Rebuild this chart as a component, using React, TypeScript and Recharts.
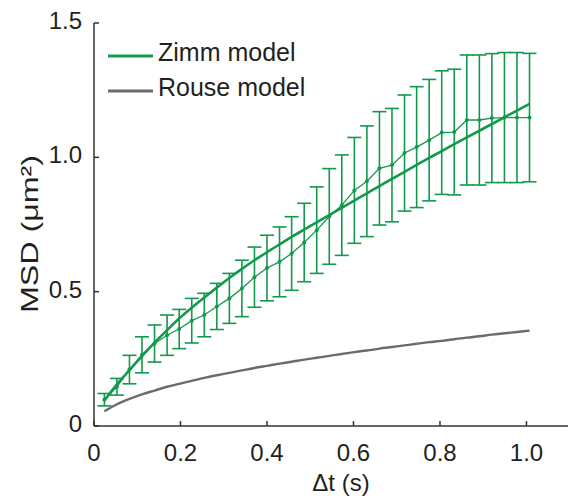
import { ComposedChart, ErrorBar, Legend, Line, XAxis, YAxis } from "recharts";

// lag times (s)
const DT = [
  0.024, 0.053, 0.082, 0.111, 0.14, 0.169, 0.197, 0.226, 0.255, 0.284, 0.313, 0.342,
  0.371, 0.4, 0.429, 0.457, 0.486, 0.515, 0.544, 0.573, 0.602, 0.631, 0.66, 0.689,
  0.718, 0.746, 0.775, 0.804, 0.833, 0.862, 0.891, 0.92, 0.949, 0.978, 1.007,
];

// measured MSD (µm²) and its error
const MSD_MEAN = [
  0.098, 0.146, 0.21, 0.265, 0.307, 0.338, 0.361, 0.392, 0.413, 0.445, 0.475, 0.512,
  0.554, 0.588, 0.611, 0.642, 0.683, 0.729, 0.78, 0.822, 0.877, 0.911, 0.959, 0.971,
  1.016, 1.038, 1.064, 1.092, 1.094, 1.139, 1.139, 1.146, 1.148, 1.148, 1.148,
];
const MSD_ERR = [
  0.023, 0.031, 0.053, 0.067, 0.069, 0.075, 0.073, 0.083, 0.081, 0.086, 0.093, 0.105,
  0.112, 0.122, 0.13, 0.137, 0.146, 0.161, 0.178, 0.187, 0.197, 0.206, 0.211, 0.211,
  0.216, 0.225, 0.226, 0.23, 0.234, 0.242, 0.242, 0.24, 0.242, 0.242, 0.239,
];

// model curves
const ZIMM = [
  0.095, 0.155, 0.208, 0.26, 0.31, 0.357, 0.4, 0.44, 0.478, 0.515, 0.551, 0.585,
  0.617, 0.647, 0.676, 0.704, 0.731, 0.758, 0.785, 0.812, 0.839, 0.866, 0.893, 0.92,
  0.946, 0.972, 0.998, 1.023, 1.049, 1.074, 1.099, 1.124, 1.149, 1.174, 1.199,
];
const ROUSE = [
  0.055, 0.081, 0.101, 0.118, 0.132, 0.146, 0.157, 0.168, 0.179, 0.189, 0.198, 0.207,
  0.216, 0.224, 0.232, 0.239, 0.247, 0.254, 0.261, 0.268, 0.275, 0.281, 0.288, 0.294,
  0.3, 0.306, 0.312, 0.317, 0.323, 0.329, 0.334, 0.34, 0.345, 0.35, 0.355,
];

const X_TICKS = [0, 0.2, 0.4, 0.6, 0.8, 1.0];
const Y_TICKS = [0, 0.5, 1.0, 1.5];
const LEGEND_ORDER = ["zimm", "rouse"];

const GREEN = "#12994c";
const GREY = "#6b6b6b";
const AXIS = "#333";
const TEXT = "#231f20";
const FONT = "'Liberation Sans', Arial, sans-serif";

const fmt = (v: number) => (v === 0 ? "0" : v.toFixed(1));

const data = DT.map((t, i) => ({
  t,
  mean: MSD_MEAN[i],
  err: MSD_ERR[i],
  zimm: ZIMM[i],
  rouse: ROUSE[i],
}));

const BottomTick = ({ x, y, payload }: any) => (
  <g>
    <line x1={x} x2={x} y1={y - 35} y2={y - 40} stroke={AXIS} strokeWidth={1.5} />
    <text x={x} y={y} textAnchor="middle" fontSize={24} fill={TEXT} fontFamily={FONT}>
      {fmt(payload.value)}
    </text>
  </g>
);

const TopTick = ({ x, y }: any) => (
  <line x1={x} x2={x} y1={y} y2={y + 5} stroke={AXIS} strokeWidth={1.5} />
);

const LeftTick = ({ x, y, payload }: any) => (
  <g>
    <line x1={x + 12} x2={x + 17} y1={y} y2={y} stroke={AXIS} strokeWidth={1.5} />
    <text x={x} y={y + 6} textAnchor="end" fontSize={24} fill={TEXT} fontFamily={FONT}>
      {fmt(payload.value)}
    </text>
  </g>
);

const LegendBox = ({ payload }: any) => (
  <div style={{ fontFamily: FONT, fontSize: 25, color: TEXT }}>
    {(payload || [])
      .filter((p: any) => p.type !== "none")
      .map((p: any) => (
        <div key={p.value} style={{ display: "flex", alignItems: "center", height: 35 }}>
          <svg width={45} height={35} style={{ display: "block" }}>
            <line x1={0} x2={45} y1={21} y2={21} stroke={p.color} strokeWidth={3} />
          </svg>
          <span style={{ marginLeft: 5, lineHeight: "35px", whiteSpace: "nowrap" }}>{p.value}</span>
        </div>
      ))}
  </div>
);

export default function App() {
  return (
    <div style={{ position: "absolute", left: 0, top: 0, background: "#fff" }}>
      <ComposedChart width={568} height={498} data={data} margin={{ top: 23, right: 0, bottom: 0, left: 0 }}>
        <XAxis
          type="number"
          dataKey="t"
          domain={[0, 1.096]}
          ticks={X_TICKS}
          allowDataOverflow
          height={72}
          tickSize={0}
          tickMargin={35}
          axisLine={{ stroke: AXIS, strokeWidth: 1.5 }}
          tick={<BottomTick />}
          label={{
            position: "insideBottom",
            content: (p: any) => (
              <text
                x={p.viewBox.x + p.viewBox.width / 2 + 10}
                y={491}
                textAnchor="middle"
                fontSize={24}
                fill={TEXT}
                fontFamily={FONT}
              >
                Δt (s)
              </text>
            ),
          }}
        />
        <XAxis
          xAxisId="top"
          orientation="top"
          type="number"
          dataKey="t"
          domain={[0, 1.096]}
          ticks={X_TICKS}
          allowDataOverflow
          height={0}
          tickSize={0}
          tickMargin={0}
          axisLine={{ stroke: AXIS, strokeWidth: 1.5 }}
          tick={<TopTick />}
        />
        <YAxis
          type="number"
          domain={[0, 1.5]}
          ticks={Y_TICKS}
          width={94}
          tickSize={0}
          tickMargin={12}
          axisLine={{ stroke: AXIS, strokeWidth: 1.5 }}
          tick={<LeftTick />}
          label={{
            position: "insideLeft",
            content: () => (
              <text
                x={0}
                y={0}
                transform="translate(38 234) rotate(-90)"
                textAnchor="middle"
                fontSize={24}
                fill={TEXT}
                fontFamily={FONT}
                textLength={158}
                lengthAdjust="spacingAndGlyphs"
              >
                MSD (μm²)
              </text>
            ),
          }}
        />
        <Legend
          layout="vertical"
          align="center"
          verticalAlign="middle"
          itemSorter={(item: any) => LEGEND_ORDER.indexOf(item.dataKey)}
          wrapperStyle={{ left: 108, top: 35, width: "auto" }}
          content={<LegendBox />}
        />
        <Line
          dataKey="mean"
          name="data"
          legendType="none"
          stroke={GREEN}
          strokeWidth={1.3}
          dot={{ r: 2, fill: GREEN, stroke: GREEN, strokeWidth: 0 }}
          isAnimationActive={false}
        >
          <ErrorBar dataKey="err" width={7} stroke={GREEN} strokeWidth={1.6} isAnimationActive={false} />
        </Line>
        <Line
          dataKey="zimm"
          name="Zimm model"
          type="monotone"
          stroke={GREEN}
          strokeWidth={2.6}
          dot={false}
          isAnimationActive={false}
        />
        <Line
          dataKey="rouse"
          name="Rouse model"
          type="monotone"
          stroke={GREY}
          strokeWidth={2.4}
          dot={false}
          isAnimationActive={false}
        />
      </ComposedChart>
    </div>
  );
}
